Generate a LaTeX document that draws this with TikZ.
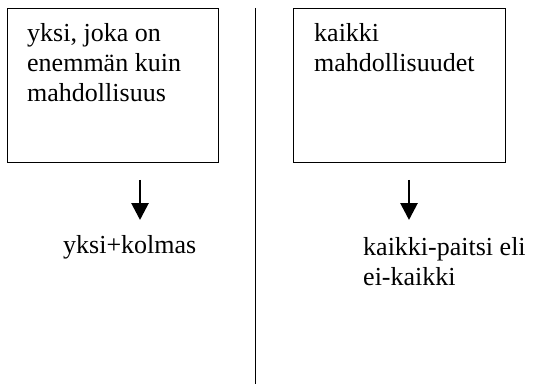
\documentclass[tikz,border=0pt]{standalone}
\usepackage{fontspec}
\setmainfont{Liberation Serif}
\usetikzlibrary{arrows.meta}
\begin{document}
\begin{tikzpicture}[x=1pt,y=-1pt,
  box/.style={draw,line width=1.4pt,inner sep=0pt,anchor=north west},
  lbl/.style={inner sep=0pt,anchor=base west,font=\fontsize{26}{30}\selectfont},
  flow/.style={line width=2.8pt,-{Triangle[length=17pt,width=17pt]}},
  divider/.style={line width=1.1pt}]
\useasboundingbox (0,0) rectangle (537,387);
% boxes
\node[box,minimum width=211pt,minimum height=154pt] (boxL) at (7,8) {};
\node[box,minimum width=212pt,minimum height=154pt] (boxR) at (293,8) {};
% box texts
\node[lbl] (l1) at (27,42) {yksi, joka on};
\node[lbl] (l2) at (27,72) {enemmän kuin};
\node[lbl] (l3) at (27,102) {mahdollisuus};
\node[lbl] (r1) at (314,42) {kaikki};
\node[lbl] (r2) at (314,72) {mahdollisuudet};
% lower texts
\node[lbl] (lo1) at (63,253) {yksi+kolmas};
\node[lbl] (ro1) at (363,255) {kaikki-paitsi eli};
\node[lbl] (ro2) at (363,285) {ei-kaikki};
% arrows
\coordinate (aLs) at (140,180);
\coordinate (aLe) at (140,220);
\coordinate (aRs) at (409,180);
\coordinate (aRe) at (409,220);
\draw[flow] (aLs) -- (aLe);
\draw[flow] (aRs) -- (aRe);
% divider
\coordinate (dTop) at (255.5,8);
\coordinate (dBot) at (255.5,384);
\draw[divider] (dTop) -- (dBot);
\end{tikzpicture}
\end{document}
